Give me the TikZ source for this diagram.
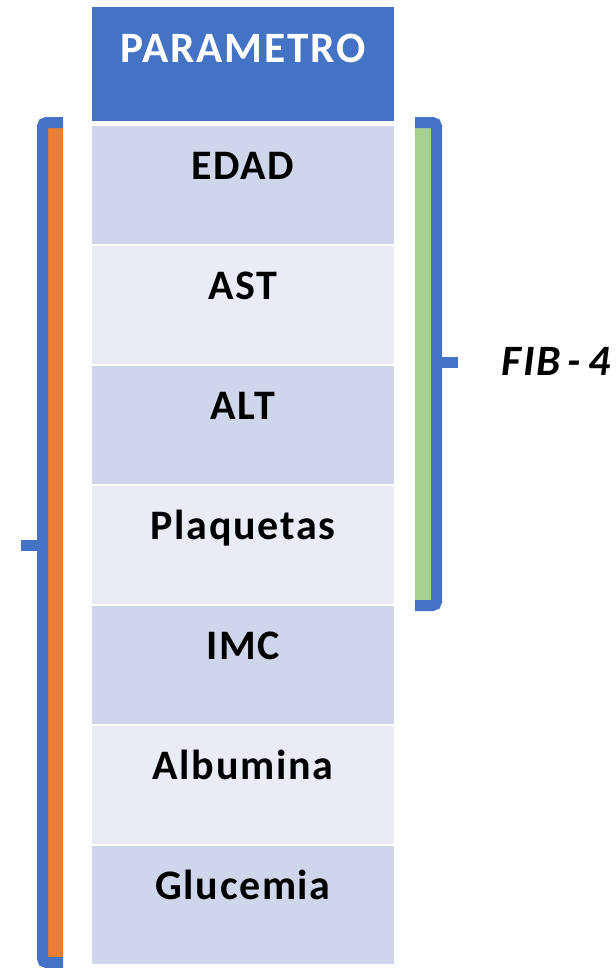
\documentclass[tikz,border=0pt]{standalone}
\usepackage{fontspec}
\setmainfont{Carlito}[LetterSpace=4]
\definecolor{azul}{HTML}{4472C4}
\definecolor{oscuro}{HTML}{CFD5EA}
\definecolor{claro}{HTML}{E9EBF5}
\definecolor{naranja}{HTML}{ED7D31}
\definecolor{verde}{HTML}{A9D18E}
\begin{document}
\begin{tikzpicture}[x=0.75pt, y=-0.75pt,
    etiqueta/.style={anchor=base, inner sep=0pt, font=\fontsize{31.5}{36}\selectfont\bfseries},
    titulo/.style={etiqueta, text=white, font=\fontsize{32.5}{38}\selectfont\bfseries},
    llave/.style={draw=azul, line width=8.25pt, rounded corners=3pt}] % 1 unidad = 1 px de la imagen
  \useasboundingbox (0,0) rectangle (615,968);

  % Cabecera
  \fill[azul] (92,7) rectangle (394,121);
  \node[titulo] (param) at (243,62) {PARAMETRO};

  % Filas de la tabla
  \foreach \i/\lab/\col in {0/EDAD/oscuro,1/AST/claro,2/ALT/oscuro,3/Plaquetas/claro,4/IMC/oscuro,5/Albumina/claro,6/Glucemia/oscuro} {
    \fill[\col] (92,{126+\i*120}) rectangle (394,{244+\i*120});
    \node[etiqueta] (p\i) at (243,{179+\i*120}) {\lab};
  }

  % Llave izquierda (todos los parametros)
  \fill[naranja] (48,128) rectangle (63,962);
  \draw[llave] (63,122.5) -- (42.5,122.5) -- (42.5,962.5) -- (63,962.5);
  \draw[llave] (42.5,545) -- (21,545);

  % Llave derecha (FIB-4)
  \fill[verde] (415,128) rectangle (431,600);
  \draw[llave] (415,122.5) -- (436.5,122.5) -- (436.5,605.5) -- (415,605.5);
  \draw[llave] (436.5,362) -- (458,362);
  \node[etiqueta, font=\fontsize{32.5}{36}\selectfont\bfseries\itshape] (fib) at (556,375) {FIB\,-\,4};
\end{tikzpicture}
\end{document}
